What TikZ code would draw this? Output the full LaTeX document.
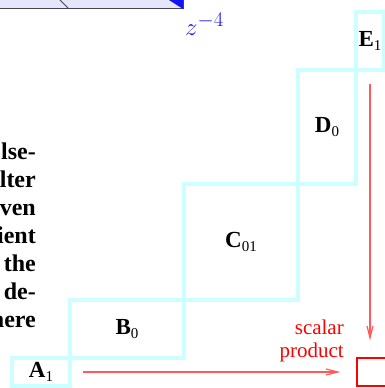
\documentclass[tikz,border=0pt]{standalone}
\usepackage{fontspec}
\setmainfont{Liberation Serif}
\usepackage{tikz}
\usetikzlibrary{arrows.meta, positioning}
\definecolor{mycyan}{RGB}{204,255,255}
\definecolor{myred}{RGB}{255,0,0}
\definecolor{mypink}{RGB}{255,90,90}
\definecolor{myblue}{RGB}{20,20,240}
\definecolor{mylav}{RGB}{230,230,250}
\definecolor{mydark}{RGB}{70,70,85}
\newcommand{\lsub}[2]{\textbf{#1}\raisebox{-4pt}{\fontsize{15}{15}\selectfont #2}}
\tikzset{
  cell/.style={draw=mycyan, line width=4pt, rectangle, outer sep=0pt, inner sep=0pt, font=\fontsize{23}{26}\selectfont},
  arrow/.style={draw=mypink, line width=1.2pt, -{Straight Barb[length=12pt,width=6pt]}},
  sidetext/.style={inner sep=0pt, font=\fontsize{24}{28}\selectfont\bfseries},
  redtext/.style={inner sep=0pt, align=right, text=myred, font=\fontsize{21}{23}\selectfont},
  redbox/.style={rectangle, draw=red, line width=1.2pt, minimum width=30pt, minimum height=28pt},
  topbar/.style={draw=mydark, fill=mylav, line width=0.8pt}
}

\begin{document}
\begin{tikzpicture}[x=1pt, y=1pt]
  \useasboundingbox (0,0) rectangle (385,388);
  \clip (0,0) rectangle (385,388);

  % cut-off bar at the top
  \draw [topbar] (-5,380) rectangle (183,396);
  \fill [myblue] (169,388) -- (183,388) -- (183,379) -- cycle;
  \draw [mydark, line width=0.8pt] (60,388) -- (68,380);
  \node [inner sep=0pt, text=myblue, font=\fontsize{32}{36}\selectfont] (z) at (204.5,364) {$z^{-4}$};

  % staircase
  \node [cell, minimum width=58pt, minimum height=28pt] (A) at (41,16) {\lsub{A}{1}};
  \node [cell, minimum width=114pt, minimum height=58pt, above right=0pt of A] (B) {\lsub{B}{0}};
  \node [cell, minimum width=114pt, minimum height=116pt, above right=0pt of B] (C) {\lsub{C}{01}};
  \node [cell, minimum width=58pt, minimum height=114pt, above right=0pt of C] (D) {\lsub{D}{0}};
  \node [cell, minimum width=28pt, minimum height=58pt, above right=0pt of D] (E) {\lsub{E}{1}};

  % scalar product
  \node [redbox] (sp) at (372,16) {};
  \node [redtext, anchor=south east] (splabel) at (344,25.4) {scalar\\product};
  \draw [arrow, shorten <=13pt, shorten >=16pt] (A) -- (sp);
  \draw [arrow, shorten <=14pt, shorten >=17pt] (E.south) -- (E.south |- sp.north);

  % text cut at the left edge
  \foreach \w [count=\i] in {lse-, lter, ven, ient, the, de-, here}
    \node [sidetext, anchor=base east] (w\i) at (36, 256-28*\i) {\w};
\end{tikzpicture}
\end{document}
